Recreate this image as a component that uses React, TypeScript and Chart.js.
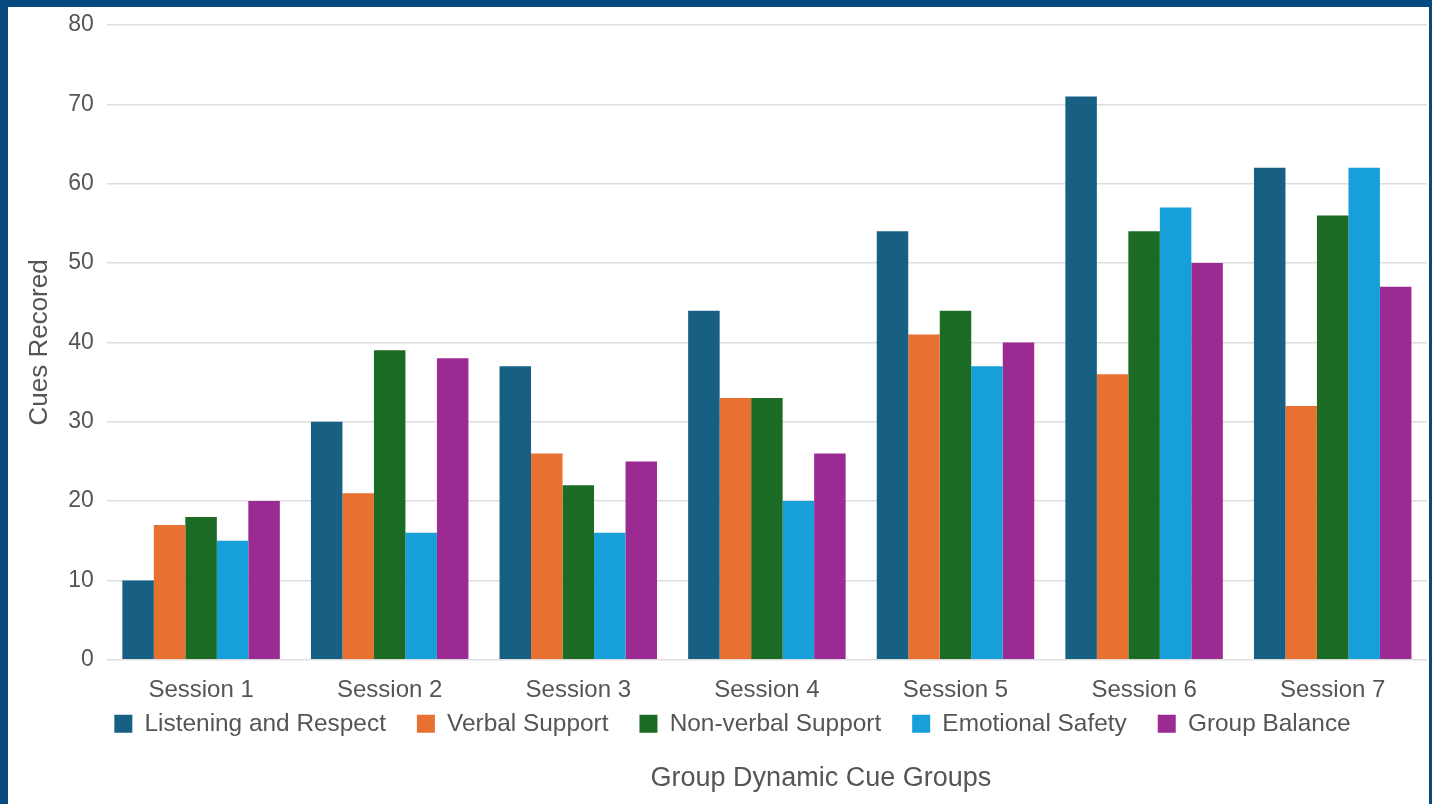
import React, { useEffect, useRef } from "react";
import { Chart, registerables } from "chart.js";

Chart.register(...registerables);

const categories = ["Session 1", "Session 2", "Session 3", "Session 4", "Session 5", "Session 6", "Session 7"];
const listeningRespect = [10, 30, 37, 44, 54, 71, 62];
const verbalSupport = [17, 21, 26, 33, 41, 36, 32];
const nonVerbalSupport = [18, 39, 22, 33, 44, 54, 56];
const emotionalSafety = [15, 16, 16, 20, 37, 57, 62];
const groupBalance = [20, 38, 25, 26, 40, 50, 47];
const seriesNames = ["Listening and Respect", "Verbal Support", "Non-verbal Support", "Emotional Safety", "Group Balance"];
const seriesColors = ["#185f84", "#e87131", "#1c6b25", "#169fd9", "#9c2a93"];
const yAxisTitle = "Cues Recored";
const xAxisTitle = "Group Dynamic Cue Groups";

const FONT = "'Liberation Sans', Arial, sans-serif";
const TEXT = "#555555";
const LEGEND_LIFT = 40;
const LEGEND_SHIFT = 7;

const legendLiftPlugin = {
  id: "legendLift",
  afterLayout(chart: any) {
    const legend = chart.legend;
    if (!legend) return;
    legend.top -= LEGEND_LIFT;
    legend.bottom -= LEGEND_LIFT;
    legend.left += LEGEND_SHIFT;
    legend.right += LEGEND_SHIFT;
  },
};

const bottomTitlePlugin = {
  id: "bottomTitle",
  afterDraw(chart: any) {
    const ctx = chart.ctx;
    const area = chart.chartArea;
    const legend = chart.legend;
    ctx.save();
    ctx.font = `27px ${FONT}`;
    ctx.fillStyle = TEXT;
    ctx.textAlign = "center";
    ctx.textBaseline = "middle";
    ctx.fillText(xAxisTitle, (area.left + area.right) / 2 + 54, legend.bottom + 33);
    ctx.restore();
  },
};

export default function App() {
  const ref = useRef<HTMLCanvasElement | null>(null);

  useEffect(() => {
    if (!ref.current) return;
    const values = [listeningRespect, verbalSupport, nonVerbalSupport, emotionalSafety, groupBalance];
    const chart = new Chart(ref.current, {
      type: "bar",
      data: {
        labels: categories,
        datasets: seriesNames.map((name, i) => ({
          label: name,
          data: values[i],
          backgroundColor: seriesColors[i],
          borderWidth: 0,
          categoryPercentage: 0.835,
          barPercentage: 1,
        })),
      },
      plugins: [legendLiftPlugin, bottomTitlePlugin],
      options: {
        responsive: false,
        animation: false,
        maintainAspectRatio: false,
        layout: { padding: { left: 16, right: 2, top: 18, bottom: 18 } },
        plugins: {
          tooltip: { enabled: false },
          title: { display: false },
          legend: {
            display: true,
            position: "bottom",
            fullSize: true,
            labels: {
              boxWidth: 18,
              boxHeight: 18,
              padding: 31,
              color: TEXT,
              font: { family: FONT, size: 24.4 },
            },
          },
        },
        scales: {
          x: {
            grid: { display: false, drawTicks: false },
            border: { display: false },
            ticks: { color: TEXT, font: { family: FONT, size: 24 }, padding: 16 },
          },
          y: {
            min: 0,
            max: 80,
            ticks: { stepSize: 10, color: TEXT, font: { family: FONT, size: 23 }, padding: 13 },
            grid: { color: "#dedede", lineWidth: 1.5, drawTicks: false },
            border: { display: false },
            afterFit: (scale: any) => {
              scale.paddingTop = 0;
            },
            title: {
              display: true,
              text: yAxisTitle,
              color: TEXT,
              font: { family: FONT, size: 26 },
              padding: { top: 0, bottom: 0 },
            },
          },
        },
      },
    });
    return () => chart.destroy();
  }, []);

  return (
    <div style={{ position: "fixed", inset: 0, background: "#064a80" }}>
      <div style={{ position: "absolute", left: 8, top: 7, width: 1421, height: 797, background: "#ffffff" }}>
        <canvas ref={ref} width={1421} height={797} style={{ display: "block" }} />
      </div>
    </div>
  );
}
